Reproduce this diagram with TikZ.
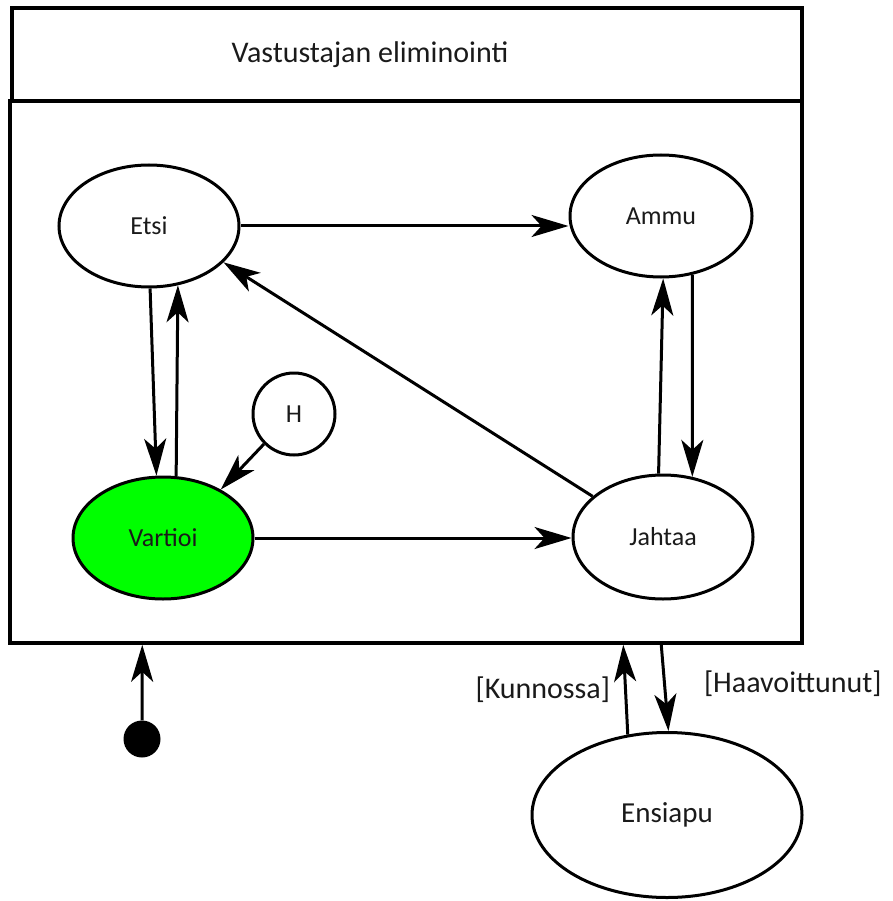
\documentclass[tikz,border=0pt]{standalone}
\usepackage{fontspec}
\setmainfont{Carlito}
\usetikzlibrary{arrows.meta,shapes.geometric}
\definecolor{ink}{HTML}{1A1A1A}
\definecolor{active}{RGB}{0,255,0}

\begin{document}
\begin{tikzpicture}[x=1pt,y=-1pt,
  state/.style={ellipse, draw, line width=3pt, inner sep=0pt,
    font=\fontsize{26}{30}\selectfont, text=ink},
  frame/.style={rectangle, draw, line width=3.5pt, inner sep=0pt},
  arr/.style={line width=3pt, -{Stealth[length=37pt,width=22pt,inset=10pt]}},
  guard/.style={font=\fontsize{30}{35}\selectfont, text=ink, inner sep=0pt},
]
\useasboundingbox (0,0) rectangle (892,901);

% composite state: title strip and body
\node[frame, minimum width=790pt, minimum height=93pt] (titlebox) at (407,54.5) {};
\node[guard] (titletext) at (370,55) {Vastustajan eliminointi};
\node[frame, minimum width=792pt, minimum height=542pt] (mainbox) at (406,372) {};

% inner states
\node[state, minimum width=180pt, minimum height=122pt] (etsi) at (149,226) {Etsi};
\node[state, minimum width=182pt, minimum height=122pt] (ammu) at (661,216) {Ammu};
\node[state, fill=active, minimum width=180pt, minimum height=122pt] (vartioi) at (163,538) {Vartioi};
\node[state, minimum width=180pt, minimum height=124pt] (jahtaa) at (663,537) {Jahtaa};
\node[state, circle, minimum size=82pt] (hist) at (294,414) {H};

% outer state and initial pseudostate
\node[state, minimum width=270pt, minimum height=165pt, font=\fontsize{29}{34}\selectfont] (ensiapu) at (667,815) {Ensiapu};
\node[circle, fill=black, minimum size=37pt, inner sep=0pt] (init) at (142,739) {};

% transitions inside the composite state
\draw[arr] (etsi.east) -- (etsi.east -| ammu.west);
\draw[arr] (etsi.-89) -- (vartioi.96.5);
\draw[arr] (vartioi.78) -- (etsi.-64);
\draw[arr] (hist.-135) -- (vartioi.40);
\draw[arr] (vartioi.east) -- (vartioi.east -| jahtaa.west);
\draw[arr] (jahtaa.150) -- (etsi.-26);
\draw[arr] (jahtaa.94.6) -- (ammu.-88.7);
\draw[arr] (ammu.-62.5) -- (jahtaa.64.6);

% transitions across the composite border
\draw[arr] (init) -- ([xshift=134pt]mainbox.south west);
\draw[arr] (ensiapu.116.4) -- ([xshift=615pt]mainbox.south west)
  node[guard, pos=0.5, anchor=east, xshift=-14pt] (ok) {[Kunnossa]};
\draw[arr] ([xshift=653pt]mainbox.south west) -- (ensiapu.89)
  node[guard, pos=0.45, anchor=west, xshift=38pt] (hurt) {[Haavoittunut]};
\end{tikzpicture}
\end{document}
